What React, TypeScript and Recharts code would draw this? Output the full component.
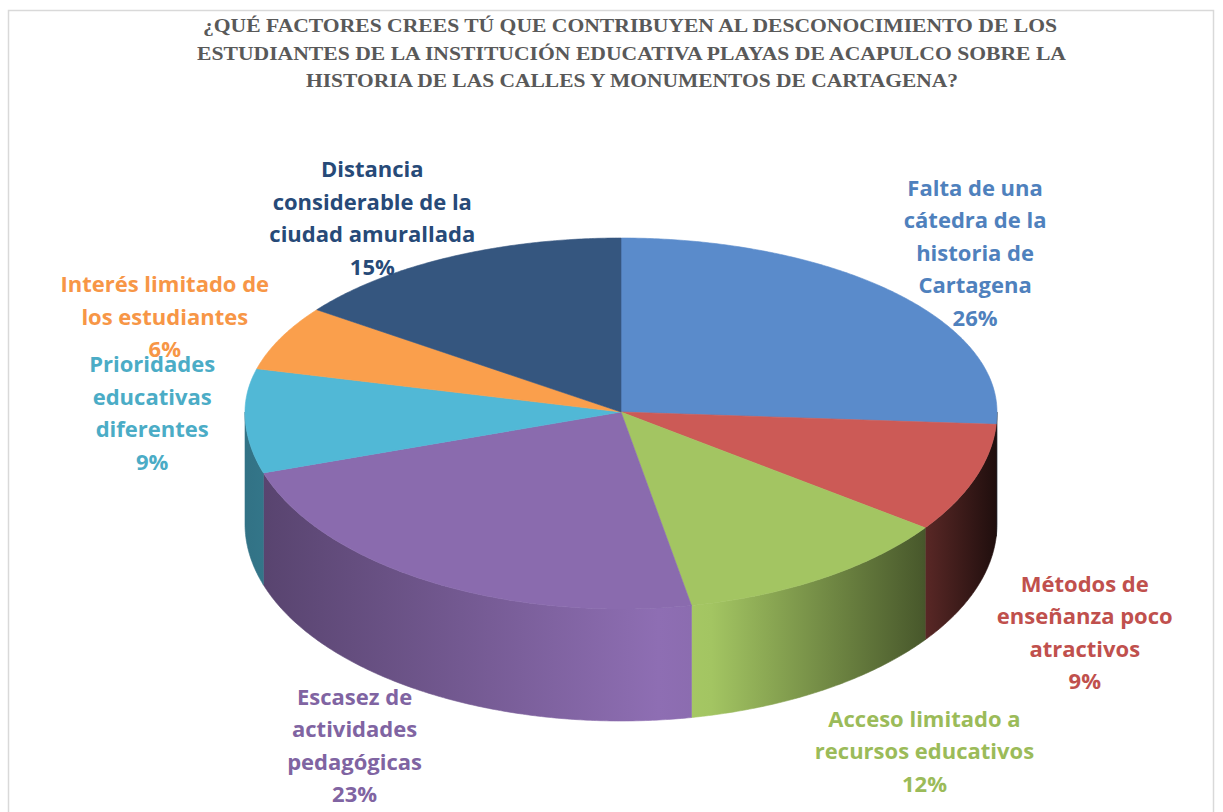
import React from 'react';
import { PieChart, Pie, Cell } from 'recharts';

const categories = [
  'Falta de una\ncátedra de la\nhistoria de\nCartagena',
  'Métodos de\nenseñanza poco\natractivos',
  'Acceso limitado a\nrecursos educativos',
  'Escasez de\nactividades\npedagógicas',
  'Prioridades\neducativas\ndiferentes',
  'Interés limitado de\nlos estudiantes',
  'Distancia\nconsiderable de la\nciudad amurallada',
];
const values = [26, 9, 12, 23, 9, 6, 15];
const sliceColors = ['#5a8bcb', '#cc5a56', '#a3c562', '#8a6bae', '#51b8d6', '#fa9f4c', '#35567f'];
const labelColors = ['#4f81bd', '#c0504d', '#9bbb59', '#8064a2', '#4bacc6', '#f79646', '#274a78'];
const titleLines = [
  '¿QUÉ FACTORES CREES TÚ QUE CONTRIBUYEN AL DESCONOCIMIENTO DE LOS',
  'ESTUDIANTES DE LA INSTITUCIÓN EDUCATIVA PLAYAS DE ACAPULCO SOBRE LA',
  'HISTORIA DE LAS CALLES Y MONUMENTOS DE CARTAGENA?',
];

const data = categories.map((name, i) => ({ name, value: values[i] }));

const W = 1223;
const H = 812;
// tilt of the pie: vertical squash above / below the centre, and wall thickness
const TOP_RATIO = 174 / 376;
const BOTTOM_RATIO = 197 / 376;
const DEPTH = 112;
// where Excel put each label block, relative to the rim point at the slice middle
const labelNudge = [
  [80, -40], [110, 154], [102, 173], [-75, 164], [-93, -5], [-116, -21], [-78, -39],
];
const LINE_H = 32.5;

const shade = (hex: string, f: number) => {
  const n = parseInt(hex.slice(1), 16);
  const c = [(n >> 16) & 255, (n >> 8) & 255, n & 255].map((v) => Math.max(0, Math.min(255, Math.round(v * f))));
  return `rgb(${c.join(',')})`;
};

const rimPoint = (cx: number, cy: number, r: number, deg: number) => {
  const a = (deg * Math.PI) / 180;
  const s = Math.sin(a);
  return [cx + r * Math.cos(a), cy - r * s * (s > 0 ? TOP_RATIO : BOTTOM_RATIO)];
};

const arcPoints = (cx: number, cy: number, r: number, from: number, to: number, dy = 0) => {
  const pts: number[][] = [];
  const step = from < to ? 0.5 : -0.5;
  for (let a = from; step > 0 ? a < to : a > to; a += step) {
    const p = rimPoint(cx, cy, r, a);
    pts.push([p[0], p[1] + dy]);
  }
  const p = rimPoint(cx, cy, r, to);
  pts.push([p[0], p[1] + dy]);
  return pts;
};

const toPath = (pts: number[][]) => pts.map((p, i) => `${i ? 'L' : 'M'}${p[0].toFixed(2)},${p[1].toFixed(2)}`).join(' ');

const Slice3D = (props: any) => {
  const { cx, cy, outerRadius, startAngle, endAngle, fill } = props;
  const idx = sliceColors.indexOf(fill);
  const a0 = Math.min(startAngle, endAngle);
  const a1 = Math.max(startAngle, endAngle);
  const top = `M${cx},${cy} ` + toPath(arcPoints(cx, cy, outerRadius, a0, a1)).replace('M', 'L') + ' Z';
  // visible wall = part of the slice in the front half
  const s0 = Math.max(a0, -180);
  const s1 = Math.min(a1, 0);
  const gid = `wall-${idx}`;
  let wall = null;
  if (s1 > s0) {
    const upper = arcPoints(cx, cy, outerRadius, s0, s1);
    const lower = arcPoints(cx, cy, outerRadius, s1, s0, DEPTH);
    wall = <path d={toPath([...upper, ...lower]) + ' Z'} fill={`url(#${gid})`} stroke={`url(#${gid})`} strokeWidth={0.6} />;
  }
  return (
    <g>
      <defs>
        <linearGradient id={gid} gradientUnits="userSpaceOnUse" x1={cx - outerRadius} y1={0} x2={cx + outerRadius} y2={0}>
          <stop offset="0" stopColor={shade(fill, 0.62)} />
          <stop offset="0.55" stopColor={shade(fill, 1.03)} />
          <stop offset="0.62" stopColor={shade(fill, 1.0)} />
          <stop offset="0.9" stopColor={shade(fill, 0.45)} />
          <stop offset="1" stopColor={shade(fill, 0.15)} />
        </linearGradient>
      </defs>
      {wall}
      <path d={top} fill={fill} stroke={fill} strokeWidth={0.6} />
    </g>
  );
};

const renderLabel = (props: any) => {
  const { cx, cy, outerRadius, midAngle, percent, index } = props;
  const p = rimPoint(cx, cy, outerRadius, midAngle);
  const lines = [...categories[index].split('\n'), `${Math.round(percent * 100)}%`];
  const x = p[0] + labelNudge[index][0];
  const yc = p[1] + labelNudge[index][1];
  const y0 = yc - ((lines.length - 1) * LINE_H) / 2;
  return (
    <text
      key={`lbl-${index}`}
      x={x}
      y={y0}
      textAnchor="middle"
      fill={labelColors[index]}
      fontFamily="'Open Sans', 'Noto Sans', sans-serif"
      fontWeight={700}
      fontSize={22}
    >
      {lines.map((l, i) => (
        <tspan key={i} x={x} y={y0 + i * LINE_H} dy="0.36em">
          {l}
        </tspan>
      ))}
    </text>
  );
};

export default function App() {
  return (
    <div style={{ position: 'relative', width: W, height: H, background: '#fff', overflow: 'hidden' }}>
      <style>{'body{margin:0}'}</style>
      <svg width={W} height={H} style={{ position: 'absolute', left: 0, top: 0 }}>
        <rect x={8.5} y={10.5} width={1205} height={900} fill="#fff" stroke="#d9d9d9" strokeWidth={1.5} />
        <text textAnchor="middle" fill="#595959" fontFamily="'Liberation Serif', 'Times New Roman', serif" fontWeight={700} fontSize={19}>
          <tspan x={630} y={32} textLength={854} lengthAdjust="spacingAndGlyphs">{titleLines[0]}</tspan>
          <tspan x={631.5} y={60} textLength={869} lengthAdjust="spacingAndGlyphs">{titleLines[1]}</tspan>
          <tspan x={632} y={87} textLength={652} lengthAdjust="spacingAndGlyphs">{titleLines[2]}</tspan>
        </text>
      </svg>
      <div style={{ position: 'absolute', left: 0, top: 0 }}>
        <PieChart width={W} height={H} margin={{ top: 0, right: 0, bottom: 0, left: 0 }}>
          <Pie
            data={data}
            dataKey="value"
            nameKey="name"
            cx={621}
            cy={412}
            outerRadius={376}
            startAngle={90}
            endAngle={-270}
            stroke="none"
            labelLine={false}
            label={renderLabel}
            shape={Slice3D}
            isAnimationActive={false}
          >
            {data.map((d, i) => (
              <Cell key={d.name} fill={sliceColors[i]} />
            ))}
          </Pie>
        </PieChart>
      </div>
    </div>
  );
}
